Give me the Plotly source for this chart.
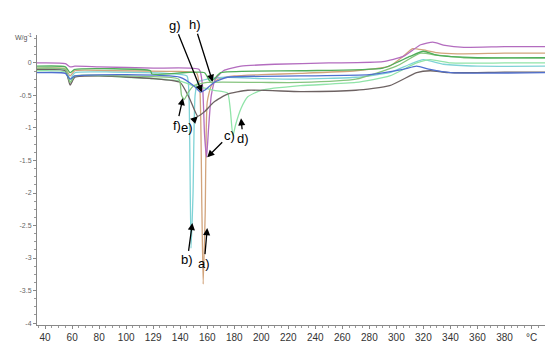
import plotly.graph_objects as go

# ---- data (temperature in °C, heat flow in W/g) ----
a_T = [34, 55, 58.5, 62, 90, 130, 152, 154.5, 156, 157, 158.5, 160, 163, 168, 180, 200, 229, 270, 295, 305, 312, 320, 330, 345, 380, 410]
a_y = [-0.08, -0.09, -0.2, -0.12, -0.12, -0.13, -0.15, -0.4, -2.2, -3.4, -2.3, -0.6, -0.35, -0.25, -0.2, -0.18, -0.16, -0.12, -0.05, 0.1, 0.22, 0.2, 0.16, 0.14, 0.15, 0.15]

b_T = [34, 55, 58.5, 62, 90, 130, 145, 146.5, 148, 149.5, 151, 153, 160, 175, 200, 229, 270, 295, 310, 320, 335, 360, 410]
b_y = [-0.1, -0.11, -0.25, -0.15, -0.14, -0.16, -0.2, -0.5, -2.85, -2.0, -0.5, -0.3, -0.25, -0.22, -0.24, -0.25, -0.22, -0.15, -0.02, 0.05, -0.02, -0.05, -0.05]

c_T = [34, 55, 58.5, 62, 80, 120, 154, 156.5, 158, 159.5, 161, 163, 166, 172, 185, 210, 250, 290, 305, 318, 327, 336, 350, 380, 410]
c_y = [0.0, -0.01, -0.06, -0.05, -0.06, -0.08, -0.1, -0.35, -1.1, -1.45, -1.0, -0.5, -0.25, -0.12, -0.05, -0.02, 0.0, 0.02, 0.1, 0.28, 0.32, 0.27, 0.24, 0.25, 0.25]

d_T = [34, 55, 58.5, 62, 100, 140, 150, 165, 175, 177, 179, 181, 185, 190, 200, 229, 270, 295, 315, 325, 340, 380, 410]
d_y = [-0.12, -0.14, -0.3, -0.2, -0.22, -0.28, -0.35, -0.42, -0.46, -0.7, -1.12, -0.95, -0.7, -0.52, -0.42, -0.35, -0.3, -0.2, 0.0, 0.05, 0.0, 0.0, 0.0]

e_T = [34, 55, 58.5, 62, 80, 120, 140, 147, 153, 158, 165, 175, 190, 229, 270, 295, 315, 325, 340, 380, 410]
e_y = [-0.1, -0.12, -0.34, -0.22, -0.2, -0.24, -0.3, -0.55, -0.82, -0.75, -0.6, -0.48, -0.42, -0.44, -0.42, -0.35, -0.15, -0.12, -0.15, -0.14, -0.14]

f_T = [34, 55, 58.5, 62, 100, 139, 141, 143, 146, 150, 160, 200, 229, 270, 300, 318, 330, 350, 410]
f_y = [-0.08, -0.1, -0.3, -0.2, -0.2, -0.25, -0.5, -0.56, -0.45, -0.35, -0.3, -0.3, -0.3, -0.25, -0.05, 0.15, 0.12, 0.08, 0.08]

g_T = [34, 55, 58.5, 62, 100, 140, 150, 155, 158, 165, 175, 229, 280, 305, 315, 325, 340, 410]
g_y = [-0.15, -0.16, -0.25, -0.2, -0.18, -0.22, -0.35, -0.45, -0.42, -0.3, -0.22, -0.2, -0.18, -0.1, -0.05, -0.1, -0.15, -0.15]

h_T = [34, 55, 58.5, 62, 118, 119, 158, 162, 165, 170, 229, 290, 310, 320, 330, 360, 410]
h_y = [-0.05, -0.06, -0.15, -0.1, -0.12, -0.17, -0.15, -0.28, -0.25, -0.15, -0.12, -0.08, 0.1, 0.18, 0.12, 0.08, 0.08]

series = [
    ("a)", a_T, a_y, "#d2a47c"),
    ("b)", b_T, b_y, "#7fd3d6"),
    ("c)", c_T, c_y, "#b36cbf"),
    ("d)", d_T, d_y, "#90e4a8"),
    ("e)", e_T, e_y, "#6d6262"),
    ("f)", f_T, f_y, "#86c47e"),
    ("g)", g_T, g_y, "#4f6fd0"),
    ("h)", h_T, h_y, "#4fae5a"),
]

x_ticks = [40, 60, 80, 100, 120, 140, 160, 180, 200, 220, 240, 260, 280, 300, 320, 340, 360, 380, 400]
x_labels = ["40", "60", "80", "100", "129", "140", "160", "180", "200", "220", "240", "260", "280", "300", "320", "340", "360", "380", "°C"]
y_ticks = [0, -0.5, -1, -1.5, -2, -2.5, -3, -3.5, -4]
y_labels = ["0", "-0.5", "-1", "-1.5", "-2", "-2.5", "-3", "-3.5", "-4"]

# annotation label, tip (T, y), text offset (px)
ann_labels = ["a)", "b)", "c)", "d)", "e)", "f)", "g)", "h)"]
ann_T = [160, 149, 160, 185, 153, 142, 156, 164]
ann_y = [-2.54, -2.46, -1.45, -0.85, -0.82, -0.54, -0.45, -0.29]
ann_dx = [-3, -5, 22, 2, -11, -6, -27, -18]
ann_dy = [35, 37, -22, 20, 11, 27, -67, -57]

fig = go.Figure()
for name, T, y, col in series:
    fig.add_trace(go.Scatter(x=T, y=y, mode="lines", name=name,
                             line=dict(color=col, width=1.3, shape="spline", smoothing=0.5),
                             showlegend=False))

for lab, t, v, dx, dy in zip(ann_labels, ann_T, ann_y, ann_dx, ann_dy):
    fig.add_annotation(x=t, y=v, text=lab, showarrow=True, ax=dx, ay=dy,
                       arrowhead=2, arrowsize=1.1, arrowwidth=1.3, arrowcolor="black",
                       font=dict(size=13, color="black", family="Liberation Sans, Arial"))

fig.add_annotation(xref="paper", yref="paper", x=-0.005, y=1.015, text="W/g<sup>-1</sup>",
                   showarrow=False, xanchor="right", font=dict(size=7, color="#555"))

fig.update_layout(
    width=545, height=345,
    margin=dict(l=29, r=8, t=27, b=28),
    paper_bgcolor="white", plot_bgcolor="white",
    font=dict(family="Liberation Sans, Arial", color="#333"),
    xaxis=dict(range=[34, 410], tickvals=x_ticks, ticktext=x_labels,
               showgrid=False, zeroline=False, showline=True, linecolor="#888", linewidth=1,
               ticks="outside", ticklen=3, tickcolor="#888", tickfont=dict(size=10, color="#333"),
               minor=dict(ticks="outside", ticklen=2, tickcolor="#999", dtick=5, tick0=0)),
    yaxis=dict(range=[-4.03, 0.43], tickvals=y_ticks, ticktext=y_labels,
               showgrid=False, zeroline=False, showline=True, linecolor="#888", linewidth=1,
               ticks="outside", ticklen=3, tickcolor="#888", tickfont=dict(size=7, color="#666"),
               minor=dict(ticks="outside", ticklen=2, tickcolor="#999", dtick=0.125, tick0=0)),
)

fig.write_html("out.html")
